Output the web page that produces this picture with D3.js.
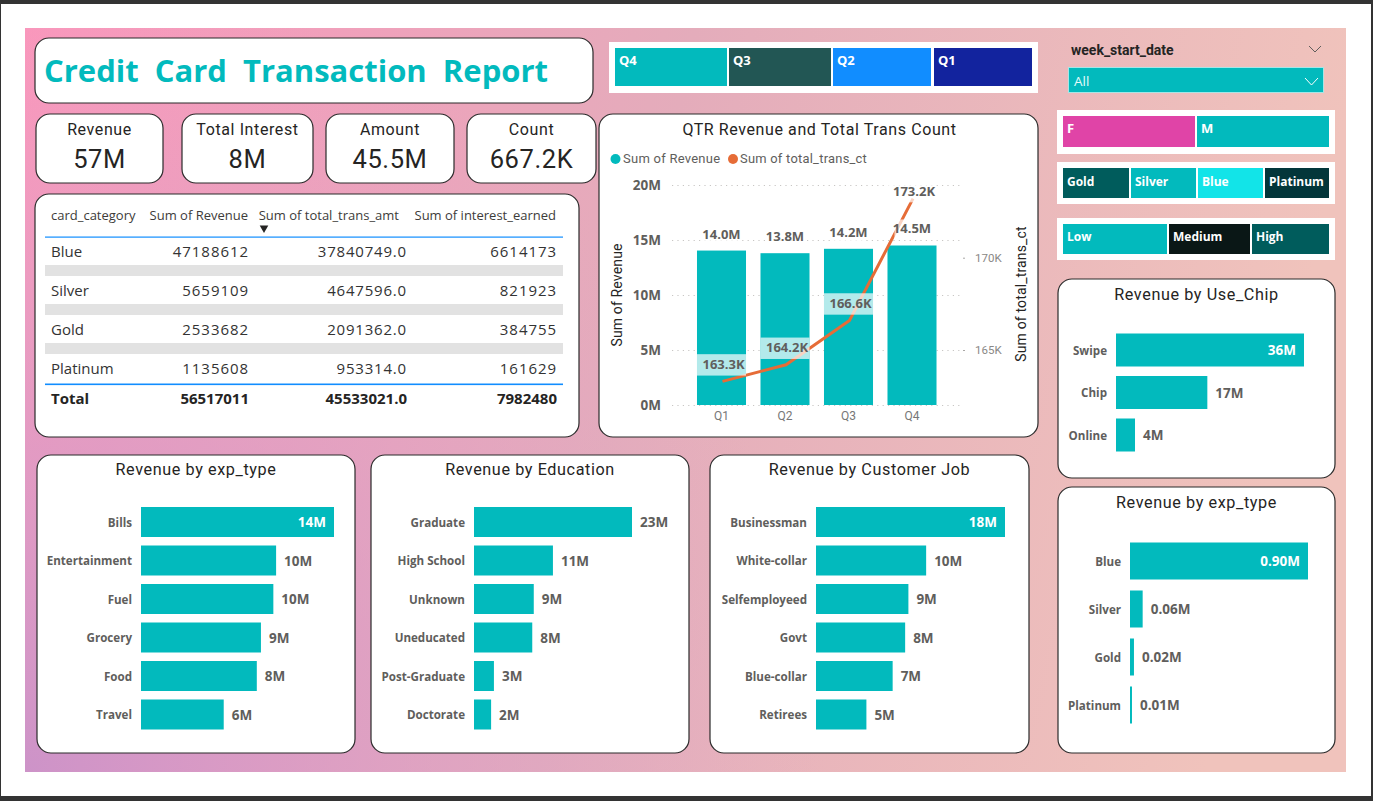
<!DOCTYPE html>
<html>
<head>
<meta charset="utf-8">
<script src="https://cdn.jsdelivr.net/npm/d3@7"></script>
<style>
  html, body { margin: 0; padding: 0; background: #fff; overflow: hidden; }
  svg { display: block; }
  .din { font-family: Roboto, sans-serif; }
  .seg { font-family: "Open Sans", sans-serif; }
  .axis-left .domain, .axis-right .domain, .axis-q .domain { display: none; }
</style>
</head>
<body>
<svg id="mySvg"></svg>
<script>
// table
const cardCategories = ["Blue", "Silver", "Gold", "Platinum"];
const cardRevenue = ["47188612", "5659109", "2533682", "1135608"];
const cardAmount = ["37840749.0", "4647596.0", "2091362.0", "953314.0"];
const cardInterest = ["6614173", "821923", "384755", "161629"];
const cardTotals = ["Total", "56517011", "45533021.0", "7982480"];
const tableHeaders = ["card_category", "Sum of Revenue", "Sum of total_trans_amt", "Sum of interest_earned"];

// kpi cards
const kpiNames = ["Revenue", "Total Interest", "Amount", "Count"];
const kpiValues = ["57M", "8M", "45.5M", "667.2K"];

// quarter combo chart
const quarters = ["Q1", "Q2", "Q3", "Q4"];
const qtrRevenue = [14.04, 13.8, 14.2, 14.5];
const qtrCount = [163.3, 164.2, 166.6, 173.2];
const revenueTicks = [0, 5, 10, 15, 20];
const countTicks = [165, 170];

// bar charts
const expNames = ["Bills", "Entertainment", "Fuel", "Grocery", "Food", "Travel"];
const expValues = [14.0, 9.8, 9.6, 8.7, 8.4, 6.0];
const eduNames = ["Graduate", "High School", "Unknown", "Uneducated", "Post-Graduate", "Doctorate"];
const eduValues = [23.0, 11.49, 8.7, 8.48, 2.9, 2.49];
const jobNames = ["Businessman", "White-collar", "Selfemployeed", "Govt", "Blue-collar", "Retirees"];
const jobValues = [18.0, 10.49, 8.8, 8.49, 7.3, 4.8];
const chipNames = ["Swipe", "Chip", "Online"];
const chipValues = [36.0, 17.49, 3.64];
const cardBarNames = ["Blue", "Silver", "Gold", "Platinum"];
const cardBarValues = [0.90, 0.064, 0.02, 0.01];

// slicers
const quarterTiles = ["Q4", "Q3", "Q2", "Q1"];
const genderTiles = ["F", "M"];
const cardTiles = ["Gold", "Silver", "Blue", "Platinum"];
const incomeTiles = ["Low", "Medium", "High"];

const teal = "#02babd";
const orange = "#e66c37";
const grey = "#605e5c";
const ink = "#252423";

const svg = d3.select("#mySvg").attr("width", 1373).attr("height", 801);
const defs = svg.append("defs");

const bgA = defs.append("linearGradient").attr("id", "bgA").attr("x1", "0").attr("y1", "0").attr("x2", "1").attr("y2", "0.12");
bgA.append("stop").attr("offset", "0").attr("stop-color", "#fb96bb");
bgA.append("stop").attr("offset", "0.5").attr("stop-color", "#e4acbb");
bgA.append("stop").attr("offset", "1").attr("stop-color", "#f0c3bc");
const bgB = defs.append("radialGradient").attr("id", "bgB").attr("gradientUnits", "userSpaceOnUse")
  .attr("cx", 25).attr("cy", 772).attr("r", 800);
bgB.append("stop").attr("offset", "0").attr("stop-color", "#cd93c8").attr("stop-opacity", 1);
bgB.append("stop").attr("offset", "1").attr("stop-color", "#e0a8c8").attr("stop-opacity", 0);

// window frame
svg.append("rect").attr("width", 1373).attr("height", 4).attr("fill", "#333");
svg.append("rect").attr("y", 796).attr("width", 1373).attr("height", 5).attr("fill", "#333");
svg.append("rect").attr("width", 1).attr("height", 801).attr("fill", "#333");
svg.append("rect").attr("x", 1371).attr("width", 2).attr("height", 801).attr("fill", "#333");

svg.append("rect").attr("x", 25).attr("y", 28).attr("width", 1321).attr("height", 744).attr("fill", "url(#bgA)");
svg.append("rect").attr("x", 25).attr("y", 28).attr("width", 1321).attr("height", 744).attr("fill", "url(#bgB)");

function panel(x0, y0, x1, y1) {
  return svg.append("rect").attr("x", x0).attr("y", y0)
    .attr("width", x1 - x0).attr("height", y1 - y0)
    .attr("rx", 14).attr("fill", "#fff").attr("stroke", "#2b2b2b").attr("stroke-width", 1.2);
}

function label(x, y, text, size, opts) {
  const o = opts || {};
  return svg.append("text").attr("x", x).attr("y", y + 1.5).text(text)
    .attr("class", o.cls || "din")
    .attr("font-size", size)
    .attr("font-weight", o.weight || 400)
    .attr("fill", o.fill || ink)
    .attr("text-anchor", o.anchor || "start")
    .attr("letter-spacing", o.spacing || 0)
    .attr("dominant-baseline", "middle");
}

// title
panel(35, 38, 593, 103);
label(44, 72, "Credit  Card  Transaction  Report", 31, { cls: "seg", weight: 700, fill: teal }).style("white-space", "pre");

// kpis
const kpiBoxes = [[36, 163], [182, 313], [326, 454], [467, 596]];
kpiNames.forEach((name, i) => {
  const [a, b] = kpiBoxes[i];
  panel(a, 114, b, 183);
  label((a + b) / 2, 129, name, 16, { anchor: "middle", spacing: 0.6 });
  label((a + b) / 2, 160, kpiValues[i], 25.5, { anchor: "middle", spacing: 0.6 });
});

// table
panel(35, 194, 579, 437);
const headerX = [51, 248, 399, 556];
const cellX = [51, 249, 407, 557];
tableHeaders.forEach((h, i) => {
  label(headerX[i], 215, h, 13, { cls: "seg", fill: "#3d3c3a", anchor: i === 0 ? "start" : "end" });
});
svg.append("path").attr("d", d3.symbol(d3.symbolTriangle, 32)()).attr("transform", "translate(264,228) rotate(180)").attr("fill", "#252423");
svg.append("rect").attr("x", 45).attr("y", 236.5).attr("width", 518).attr("height", 1.2).attr("fill", "#118dff");

const rowY = d3.scalePoint().domain(cardCategories).range([251, 368]);
const striped = cardCategories.slice(0, -1);
svg.append("g").selectAll("rect").data(striped).enter().append("rect")
  .attr("x", 45).attr("width", 518)
  .attr("y", (d) => rowY(d) + 14).attr("height", 11).attr("fill", "#e2e2e2");
cardCategories.forEach((c, i) => {
  label(cellX[0], rowY(c), c, 15, { cls: "seg", fill: "#333" });
  label(cellX[1], rowY(c), cardRevenue[i], 15, { cls: "seg", fill: "#333", anchor: "end", spacing: 0.95 });
  label(cellX[2], rowY(c), cardAmount[i], 15, { cls: "seg", fill: "#333", anchor: "end", spacing: 0.8 });
  label(cellX[3], rowY(c), cardInterest[i], 15, { cls: "seg", fill: "#333", anchor: "end", spacing: 0.95 });
});
svg.append("rect").attr("x", 45).attr("y", 383.5).attr("width", 518).attr("height", 1.6).attr("fill", "#118dff");
cardTotals.forEach((t, i) => {
  label(cellX[i], 398, t, 15, { cls: "seg", weight: 700, fill: "#252423", anchor: i === 0 ? "start" : "end" });
});

// slicer tiles
function tiles(names, edges, y0, y1, fills, size, dy) {
  names.forEach((n, i) => {
    svg.append("rect").attr("x", edges[i][0]).attr("y", y0)
      .attr("width", edges[i][1] - edges[i][0]).attr("height", y1 - y0).attr("fill", fills[i]);
    label(edges[i][0] + 4, y0 + dy, n, size, { cls: "seg", weight: 700, fill: "#fff" });
  });
}
svg.append("rect").attr("x", 609).attr("y", 42).attr("width", 429).attr("height", 51).attr("fill", "#fff");
tiles(quarterTiles, [[615, 727], [729, 831], [833, 931], [934, 1032]], 48, 86,
  [teal, "#225654", "#118dff", "#12239e"], 13, 12.5);
svg.append("rect").attr("x", 1057).attr("y", 110).attr("width", 278).attr("height", 44).attr("fill", "#fff");
tiles(genderTiles, [[1063, 1195], [1197, 1329]], 116, 147, ["#e044a7", teal], 13, 12.5);
svg.append("rect").attr("x", 1057).attr("y", 162).attr("width", 278).attr("height", 42).attr("fill", "#fff");
tiles(cardTiles, [[1063, 1129], [1131, 1196], [1198, 1263], [1265, 1329]], 168, 198,
  ["#005c5c", teal, "#12e4e8", "#03363a"], 12, 13);
svg.append("rect").attr("x", 1057).attr("y", 218).attr("width", 278).attr("height", 42).attr("fill", "#fff");
tiles(incomeTiles, [[1063, 1167], [1169, 1250], [1252, 1329]], 224, 254,
  [teal, "#0a1716", "#005c5c"], 12, 12);

// date slicer
label(1071, 50, "week_start_date", 14, { weight: 700, fill: "#252423" });
svg.append("path").attr("d", "M1309 46 L1315 52 L1321 46").attr("fill", "none").attr("stroke", "#605e5c");
svg.append("rect").attr("x", 1068.5).attr("y", 67.5).attr("width", 255).attr("height", 25).attr("fill", teal).attr("stroke", "#a6e6e6");
label(1074, 81, "All", 13.5, { cls: "seg", fill: "#e8fafa" });
svg.append("path").attr("d", "M1305 78 L1311.5 85 L1318 78").attr("fill", "none").attr("stroke", "#fff");

// combo chart
panel(599, 114, 1038, 437);
label(819.5, 129, "QTR Revenue and Total Trans Count", 16, { anchor: "middle", spacing: 0.6 });
svg.append("circle").attr("cx", 615.5).attr("cy", 159).attr("r", 5).attr("fill", teal);
label(623, 158.5, "Sum of Revenue", 13, { fill: grey, spacing: 0.25 });
svg.append("circle").attr("cx", 733).attr("cy", 159).attr("r", 5).attr("fill", orange);
label(740, 158.5, "Sum of total_trans_ct", 12.9, { fill: grey, spacing: 0.25 });

const comboX = d3.scaleBand().domain(quarters).range([689.75, 943.75]).paddingInner(0.228).paddingOuter(0.114);
const comboY = d3.scaleLinear().domain([0, 20]).range([405, 185]);
const countY = d3.scaleLinear().domain([165, 170]).range([350, 257.7]);

const leftAxis = svg.append("g").attr("class", "axis-left").attr("transform", "translate(672,0)")
  .call(d3.axisLeft(comboY).tickValues(revenueTicks).tickFormat((d) => d + "M").tickSize(-291).tickPadding(11));
leftAxis.selectAll("line").attr("stroke", "#c8c6c4").attr("stroke-dasharray", "1.2 4.2");
leftAxis.selectAll("text").attr("class", "seg").attr("font-size", 13.5).attr("font-weight", 700).attr("fill", grey);

const rightAxis = svg.append("g").attr("class", "axis-right").attr("transform", "translate(963,0)")
  .call(d3.axisRight(countY).tickValues(countTicks).tickFormat((d) => d + "K").tickSize(2).tickPadding(10));
rightAxis.selectAll("line").attr("stroke", "#a9a7a5");
rightAxis.selectAll("text").attr("class", "din").attr("font-size", 11.5).attr("fill", "#8a8886");

const qAxis = svg.append("g").attr("class", "axis-q").attr("transform", "translate(0,405)")
  .call(d3.axisBottom(comboX).tickSize(0).tickPadding(6));
qAxis.selectAll("text").attr("class", "din").attr("font-size", 12).attr("fill", "#777");

svg.append("g").selectAll("rect").data(quarters).enter().append("rect")
  .attr("x", (d) => comboX(d)).attr("width", comboX.bandwidth())
  .attr("y", (d, i) => comboY(qtrRevenue[i]))
  .attr("height", (d, i) => comboY(0) - comboY(qtrRevenue[i]))
  .attr("fill", teal);

const countLine = d3.line()
  .x((d, i) => comboX(quarters[i]) + comboX.bandwidth() / 2 + 1)
  .y((d) => countY(d));
svg.append("path").attr("d", countLine(qtrCount)).attr("fill", "none")
  .attr("stroke", orange).attr("stroke-width", 3);

// labels with the pale backing that washes over line and bars
quarters.forEach((q, i) => {
  const cx = comboX(q) + comboX.bandwidth() / 2;
  const yRev = comboY(qtrRevenue[i]) - 16;
  svg.append("rect").attr("x", comboX(q) + 7).attr("y", yRev - 10).attr("width", comboX.bandwidth() - 14).attr("height", 20)
    .attr("fill", "#fff").attr("fill-opacity", 0.7);
  label(cx, yRev - 1, d3.format(".1f")(qtrRevenue[i]) + "M", 13, { cls: "seg", weight: 700, fill: grey, anchor: "middle" });
  const yCnt = countY(qtrCount[i]) - (i === 3 ? 7 : 16.5);
  svg.append("rect").attr("x", comboX(q)).attr("y", yCnt - 10.7).attr("width", comboX.bandwidth()).attr("height", 21.4)
    .attr("fill", "#fff").attr("fill-opacity", 0.7);
  label(cx + 2, yCnt - 1, d3.format(".1f")(qtrCount[i]) + "K", 13, { cls: "seg", weight: 700, fill: grey, anchor: "middle" });
});

label(0, 0, "Sum of Revenue", 14, { fill: ink, anchor: "middle", spacing: 0.15 })
  .attr("transform", "translate(617,295) rotate(-90)");
label(0, 0, "Sum of total_trans_ct", 14, { fill: ink, anchor: "middle", spacing: 0.15 })
  .attr("transform", "translate(1021,294) rotate(-90)");

// horizontal bar chart panels
function barPanel(box, title, titleY, names, values, x0, x1, maxV, cy0, step, barH, fmt) {
  panel(box[0], box[1], box[2], box[3]);
  label((box[0] + box[2]) / 2, titleY, title, 16.2, { anchor: "middle", spacing: 0.6 });
  const y = d3.scaleBand().domain(names)
    .range([cy0 - step / 2, cy0 - step / 2 + step * names.length])
    .paddingInner(1 - barH / step).paddingOuter((1 - barH / step) / 2);
  const x = d3.scaleLinear().domain([0, maxV]).range([x0, x1]);
  const g = svg.append("g");
  g.selectAll("rect").data(names).enter().append("rect")
    .attr("x", x0).attr("y", (d) => y(d))
    .attr("width", (d, i) => x(values[i]) - x0)
    .attr("height", barH).attr("fill", teal);
  names.forEach((n, i) => {
    const cy = y(n) + barH / 2;
    label(x0 - 9, cy, n, 11.6, { cls: "seg", weight: 700, fill: grey, anchor: "end" });
    const end = x(values[i]);
    const inside = i === 0 && title !== "Revenue by Education";
    label(inside ? end - 8 : end + 8, cy, fmt(values[i]), 13.5, {
      cls: "seg", weight: 700, fill: inside ? "#fff" : grey, anchor: inside ? "end" : "start"
    });
  });
}
const fmtM = (v) => Math.round(v) + "M";
const fmtM2 = (v) => d3.format(".2f")(v) + "M";

barPanel([37, 455, 355, 753], "Revenue by exp_type", 469, expNames, expValues, 141, 334, 14, 522, 38.5, 30, fmtM);
barPanel([371, 455, 689, 753], "Revenue by Education", 469, eduNames, eduValues, 474, 632, 23, 522, 38.5, 30, fmtM);
barPanel([710, 455, 1029, 753], "Revenue by Customer Job", 469, jobNames, jobValues, 816, 1005, 18, 522, 38.5, 30, fmtM);
barPanel([1058, 279, 1335, 478], "Revenue by Use_Chip", 294, chipNames, chipValues, 1116, 1304, 36, 350, 42.5, 33, fmtM);
barPanel([1058, 487, 1335, 753], "Revenue by exp_type", 502, cardBarNames, cardBarValues, 1130, 1308, 0.9, 561, 48, 37, fmtM2);
</script>
</body>
</html>
